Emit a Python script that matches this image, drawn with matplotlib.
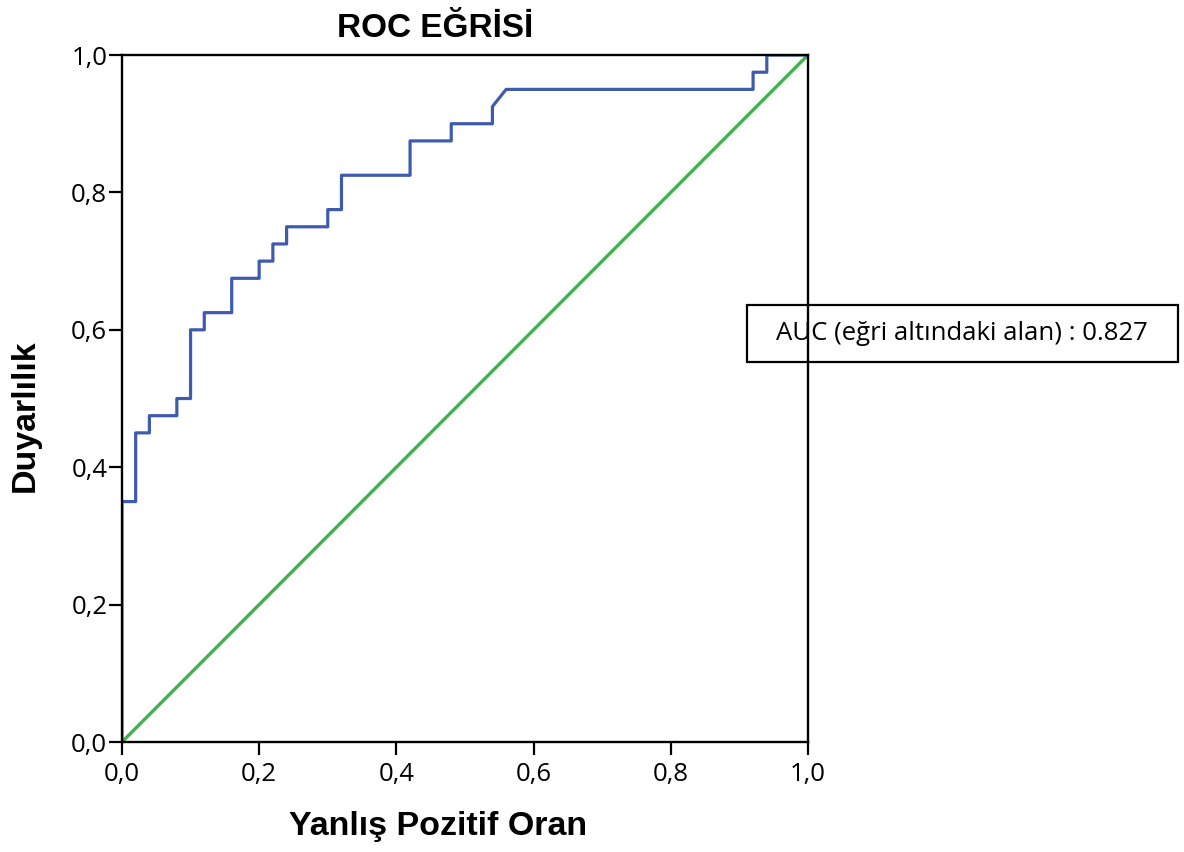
import matplotlib
matplotlib.use("Agg")
import matplotlib.pyplot as plt
from matplotlib.patches import Rectangle
from matplotlib.ticker import FuncFormatter

# ROC curve vertices (false positive rate, sensitivity)
fpr = [0.00, 0.00, 0.02, 0.02, 0.04, 0.04, 0.08, 0.08, 0.10, 0.10, 0.12, 0.12,
       0.16, 0.16, 0.20, 0.20, 0.22, 0.22, 0.24, 0.24, 0.30, 0.30, 0.32, 0.32,
       0.42, 0.42, 0.48, 0.48, 0.54, 0.54, 0.56, 0.92, 0.92, 0.94, 0.94, 1.00]
tpr = [0.000, 0.350, 0.350, 0.450, 0.450, 0.475, 0.475, 0.500, 0.500, 0.600, 0.600, 0.625,
       0.625, 0.675, 0.675, 0.700, 0.700, 0.725, 0.725, 0.750, 0.750, 0.775, 0.775, 0.825,
       0.825, 0.875, 0.875, 0.900, 0.900, 0.925, 0.950, 0.950, 0.975, 0.975, 1.000, 1.000]
ref_line = [0.0, 1.0]
ticks = [0.0, 0.2, 0.4, 0.6, 0.8, 1.0]
auc = 0.827

fig = plt.figure(figsize=(11.84, 8.52), dpi=100)
ax = fig.add_axes([0.1030, 0.1291, 0.5794, 0.8063])

ax.plot(ref_line, ref_line, color="#3cb44b", lw=2.4, solid_capstyle="butt")
ax.plot(fpr, tpr, color="#3f5bb0", lw=2.3)

ax.set_xlim(0, 1)
ax.set_ylim(0, 1)
ax.set_xticks(ticks)
ax.set_yticks(ticks)
comma = FuncFormatter(lambda v, p: f"{v:.1f}".replace(".", ","))
ax.xaxis.set_major_formatter(comma)
ax.yaxis.set_major_formatter(comma)
ax.tick_params(length=9.5, width=1.6, direction="out", labelsize=18.5)
ax.tick_params(axis="x", pad=5)
ax.tick_params(axis="y", pad=1)
for lab in ax.get_xticklabels() + ax.get_yticklabels():
    lab.set_fontfamily("Open Sans")
for sp in ax.spines.values():
    sp.set_linewidth(1.7)

fig.text(0.3674, 0.9566, "ROC EĞRİSİ", ha="center", va="baseline",
         fontsize=24, fontweight="bold", family="Liberation Sans")
fig.text(0.370, 0.020, "Yanlış Pozitif Oran", ha="center", va="baseline",
         fontsize=24.5, fontweight="bold", family="Liberation Sans")
fig.text(0.0211, 0.5123, "Duyarlılık", ha="center", va="center", rotation=90,
         fontsize=24.5, fontweight="bold", family="Liberation Sans")

# AUC box
fig.patches.append(Rectangle((0.6309, 0.5751), 0.3640, 0.0669, transform=fig.transFigure,
                             fill=False, edgecolor="black", lw=1.6, zorder=5))
fig.text(0.8125, 0.6086, f"AUC (eğri altındaki alan) : {auc}", ha="center", va="center",
         fontsize=18.5, family="Open Sans", zorder=6)

fig.savefig("out.png", dpi=100)
